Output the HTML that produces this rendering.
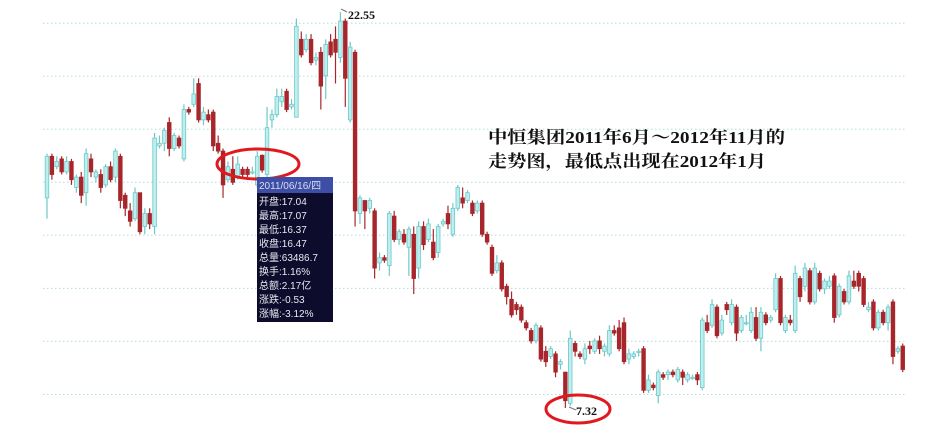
<!DOCTYPE html>
<html><head><meta charset="utf-8">
<style>
html,body{margin:0;padding:0;background:#fff;width:943px;height:436px;overflow:hidden}
svg{display:block}
</style></head>
<body>
<svg id="chart" width="943" height="436" viewBox="0 0 943 436" xmlns="http://www.w3.org/2000/svg">
<g id="grid"></g>
<g id="candles"></g>
<g id="anno"></g>
</svg>
<script>
const opens=[15.4,17.0,16.6,16.9,16.4,16.8,15.8,16.2,15.6,16.9,16.2,16.3,15.9,16.6,16.2,17.0,15.5,14.9,14.6,15.6,14.3,14.8,14.3,
17.4,17.5,18.3,17.3,17.7,16.9,18.8,19.0,19.8,18.4,18.6,18.7,17.5,17.2,16.1,16.5,16.2,16.5,16.5,16.4,15.9,
17.04,16.3,18.4,18.6,19.1,19.5,18.9,
18.5,21.5,21.1,21.5,20.7,21.0,20.1,21.4,21.5,
20.8,22.2,18.4,21.0,
14.8,15.3,15.0,14.9,12.9,13.1,12.8,14.7,13.8,14.0,13.5,14.0,12.7,14.3,13.8,13.7,13.3,14.4,14.8,14.0,
15.0,15.4,15.3,15.2,14.9,15.2,14.0,13.5,12.6,12.9,12.0,11.5,11.3,11.2,10.6,10.3,9.9,10.4,9.5,9.3,9.4,9.0,8.7,7.5,
9.8,9.4,9.2,9.7,9.5,9.9,9.5,9.4,10.3,10.4,10.6,9.2,9.3,9.5,9.6,
8.0,8.2,7.8,8.6,8.6,8.7,8.4,8.7,8.4,8.5,8.6,8.1,
10.6,10.5,11.2,10.2,11.3,10.6,11.2,10.3,10.6,10.3,10.8,10.0,10.9,10.7,11.1,12.3,10.3,10.7,10.3,
12.3,12.0,12.6,11.4,12.5,11.9,12.0,12.4,10.9,11.8,11.4,12.2,12.5,12.3,11.1,11.4,10.4,11.0,10.6,11.4,9.5,9.7];
const closes=[17.0,16.3,16.8,16.4,16.8,16.1,16.2,15.5,17.1,16.4,16.4,15.8,16.6,16.1,17.2,15.3,15.0,14.5,15.6,14.1,14.8,14.4,17.7,
17.5,18.0,17.3,17.8,17.4,18.8,18.7,19.4,18.4,18.7,18.4,17.4,17.2,15.9,16.6,16.0,16.7,16.3,16.3,16.4,17.0,
16.47,18.1,18.6,19.3,19.3,18.8,19.0,
22.0,20.9,21.5,20.6,20.8,19.7,21.3,20.9,21.0,
22.2,20.0,21.2,14.9,
15.4,14.9,15.3,12.7,13.1,13.0,14.8,13.8,14.1,13.7,14.2,12.3,14.3,13.6,14.4,13.1,14.3,14.5,14.4,15.0,
15.8,15.2,15.6,14.8,15.2,14.0,13.7,12.5,12.9,11.9,11.6,10.9,11.1,10.7,10.4,9.9,10.5,9.2,9.1,9.6,8.7,9.1,7.6,10.0,
9.5,9.3,9.6,9.6,9.9,9.6,9.7,10.3,10.2,9.6,9.1,9.4,9.4,9.5,8.0,
8.4,8.1,8.7,8.5,8.7,8.6,8.8,8.5,8.6,8.5,8.4,10.7,
10.3,11.3,10.1,10.7,11.1,11.3,10.2,10.8,10.6,11.0,10.0,11.0,10.6,10.8,12.3,10.6,10.8,10.6,12.5,
11.6,12.7,11.4,12.7,11.9,12.2,12.2,10.8,12.0,11.4,12.4,12.0,12.0,11.3,11.2,10.4,11.0,10.6,11.2,9.3,9.6,8.8];
const highs=[17.1,17.1,17.0,17.0,17.0,16.9,16.3,16.4,17.3,17.1,16.5,16.5,16.7,16.8,17.3,17.1,15.6,15.2,15.8,15.6,15.0,15.0,17.9,
17.8,18.1,18.5,17.9,17.8,19.0,18.9,20.0,20.0,18.9,18.8,18.8,17.8,17.3,16.8,17.0,17.0,16.6,16.6,16.6,17.2,
17.07,18.9,18.8,19.6,19.6,19.6,19.2,
22.3,21.8,21.7,21.7,21.0,21.2,21.5,21.7,22.0,
22.55,22.3,21.4,21.1,
15.5,15.3,15.4,15.0,13.3,13.2,14.9,14.9,14.2,14.2,14.3,14.3,14.5,14.5,14.6,14.2,14.4,14.6,15.1,15.2,
15.9,15.8,15.7,15.3,15.3,15.3,14.1,13.6,13.2,13.0,12.1,11.8,11.4,11.3,10.7,10.4,10.6,10.5,9.7,9.7,9.5,9.2,8.7,10.3,
9.9,9.5,9.8,9.9,10.0,10.1,9.8,10.5,10.5,10.7,10.8,9.6,9.5,9.6,9.7,
8.6,8.3,8.8,8.7,8.8,8.8,8.9,8.8,8.7,8.6,8.7,10.8,
10.9,11.5,11.3,10.9,11.4,11.5,11.3,10.9,10.9,11.2,11.2,11.2,11.0,10.9,12.5,12.4,10.9,10.9,12.8,
12.4,12.9,12.7,12.9,12.6,12.3,12.4,12.5,12.1,11.9,12.6,12.6,12.6,12.4,11.4,11.5,11.1,11.1,11.3,11.5,9.7,9.8];
const lows=[14.6,16.1,16.5,16.3,16.3,15.9,15.6,15.2,15.1,16.2,16.0,15.6,15.8,16.0,16.0,15.0,14.7,14.3,14.5,14.0,14.0,14.2,14.0,
17.3,17.2,17.0,17.2,17.3,16.8,18.6,18.9,18.3,18.2,18.3,17.2,17.1,15.4,16.0,15.9,16.1,16.2,16.2,16.3,15.8,
16.37,16.2,18.1,18.5,18.9,18.7,18.8,
18.5,20.8,21.0,20.5,20.5,18.8,19.2,20.8,19.8,
20.6,18.9,18.3,14.3,
14.4,14.2,14.8,12.3,12.6,12.9,12.4,13.7,13.6,13.6,12.4,11.7,12.3,13.4,13.7,13.0,13.1,14.3,14.2,13.9,
14.9,15.0,15.2,14.7,14.8,13.9,13.6,12.4,12.5,11.8,11.3,10.8,10.9,10.6,10.3,9.8,9.8,9.1,8.9,9.2,8.5,8.8,7.32,7.4,
9.3,9.2,9.0,9.4,9.4,9.4,9.3,9.3,10.1,9.5,9.0,9.0,9.2,9.3,7.9,
7.9,8.0,7.5,8.4,8.4,8.5,8.3,8.2,8.3,8.4,8.2,8.0,
10.2,10.4,10.0,10.1,10.9,10.5,9.9,10.2,10.5,10.2,9.9,9.5,10.5,10.6,11.0,10.5,10.2,10.5,10.2,
11.4,11.8,11.3,11.3,11.8,11.7,11.9,10.6,10.8,11.3,11.3,11.9,11.8,11.2,11.0,10.3,10.3,10.5,10.3,9.0,9.4,8.7];
const gridPrices=[22.12,20.08,18.04,16.0,13.96,11.92,9.88,7.84];

const NS='http://www.w3.org/2000/svg';
function yScale(p){return 12+(22.55-p)*26.0;}
function xScale(i){return 47+i*4.89;}
function mk(tag,attrs,parent){const e=document.createElementNS(NS,tag);for(const k in attrs)e.setAttribute(k,attrs[k]);parent.appendChild(e);return e;}

const grid=document.getElementById('grid');
gridPrices.forEach(p=>{
  const l=mk('line',{x1:43,x2:905,y1:yScale(p).toFixed(1),y2:yScale(p).toFixed(1),stroke:'#b5dcdc','stroke-width':1,'stroke-dasharray':'1.5,2.5'},grid);
  
  
});

const cg=document.getElementById('candles');
for(let i=0;i<opens.length;i++){
  const o=opens[i],c=closes[i],h=highs[i],lo=lows[i];
  const up=c>=o;
  const col=up?'#6cc9c9':'#a8262b';
  const x=xScale(i);
  const g=mk('g',{},cg);
  
  
  mk('line',{x1:x,x2:x,y1:yScale(h),y2:yScale(lo),stroke:col,'stroke-width':1.2},g);
  const top=yScale(Math.max(o,c)),bot=yScale(Math.min(o,c));
  mk('rect',{x:x-1.8,y:top,width:3.6,height:Math.max(1.2,bot-top),fill:up?'#bfeeee':'#a8262b',stroke:col,'stroke-width':0.8},g);
}
</script>
<svg style="position:absolute;left:0;top:0" width="943" height="436">
  <line x1="341" y1="9" x2="347" y2="12" stroke="#777" stroke-width="1"/>
  <text x="348" y="19" font-family="Liberation Serif, serif" font-weight="bold" font-size="12" fill="#111">22.55</text>
  <line x1="569" y1="407" x2="576" y2="410" stroke="#777" stroke-width="1"/>
  <text x="576" y="415" font-family="Liberation Serif, serif" font-weight="bold" font-size="12" fill="#111">7.32</text>
  <ellipse cx="258" cy="164" rx="41" ry="15" fill="none" stroke="#e0191f" stroke-width="3"/>
  <ellipse cx="578" cy="409" rx="32" ry="14" fill="none" stroke="#e0191f" stroke-width="3"/>
  <g font-family="Liberation Sans, 'Noto Sans CJK SC', sans-serif" font-size="10" fill="#e8e8f0">
    <rect x="257" y="177" width="76" height="145" fill="#0e0c2c"/>
    <rect x="257" y="177" width="76" height="16" fill="#3d4ea6"/>
    <text x="259" y="189" fill="#dde">2011/06/16/四</text>
    <text x="259" y="205">开盘:17.04</text>
    <text x="259" y="219">最高:17.07</text>
    <text x="259" y="233">最低:16.37</text>
    <text x="259" y="247">收盘:16.47</text>
    <text x="259" y="261">总量:63486.7</text>
    <text x="259" y="275">换手:1.16%</text>
    <text x="259" y="289">总额:2.17亿</text>
    <text x="259" y="303">涨跌:-0.53</text>
    <text x="259" y="317">涨幅:-3.12%</text>
  </g>
  <g font-family="Liberation Serif, 'Noto Serif CJK SC', serif" font-weight="bold" font-size="17" fill="#111">
    <text x="488" y="143" textLength="297" lengthAdjust="spacingAndGlyphs">中恒集团2011年6月～2012年11月的</text>
    <text x="488" y="167" textLength="278" lengthAdjust="spacingAndGlyphs">走势图，最低点出现在2012年1月</text>
  </g>
</svg>
</body></html>
